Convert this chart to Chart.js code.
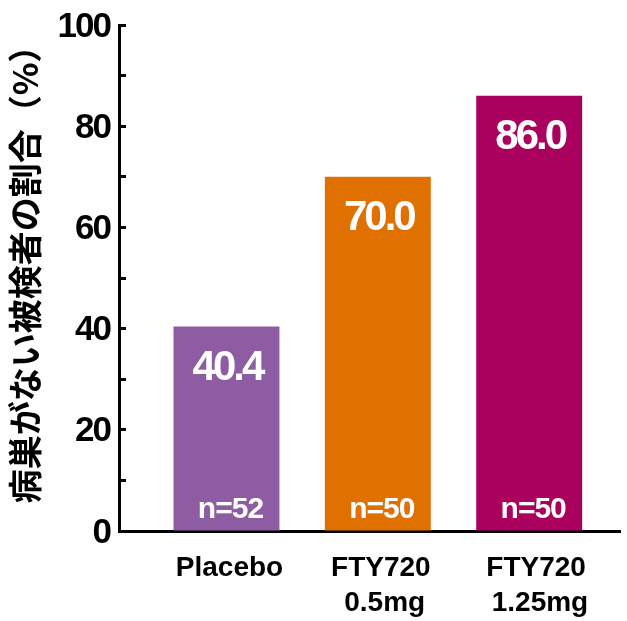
<!DOCTYPE html>
<html>
<head>
<meta charset="utf-8">
<script src="https://cdn.jsdelivr.net/npm/chart.js@4.4.1/dist/chart.umd.min.js"></script>
<style>
  html, body { margin: 0; padding: 0; background: #ffffff; }
  #wrap { width: 627px; height: 621px; }
</style>
</head>
<body>
<div id="wrap"><canvas id="c"></canvas></div>
<script>
// Treatment groups (multi-line category labels)
const categories = [['Placebo'], ['FTY720', ' 0.5mg'], [' FTY720', '  1.25mg']];
// Share of subjects without lesions (%)
const values = [40.4, 70.0, 86.0];
// Group sizes printed at the foot of each bar
const sampleSizes = ['n=52', 'n=50', 'n=50'];
// Bar fill colours
const barColors = ['#8E5CA3', '#E07000', '#AA005E'];
// Labelled y-axis ticks (minor ticks every 10 carry no text)
const yTickLabels = ['0', '20', '40', '60', '80', '100'];
const yTitle = '病巣がない被検者の割合（%）';

const FONT = "'Liberation Sans', Arial, Helvetica, sans-serif";

// Linear scale with per-axis letter spacing for tick labels and a nudge for the title
const labelSpacing = { x: 0, y: -2 };
const titleShift = { x: 0, y: -12 };
class SpacedLinearScale extends Chart.LinearScale {
  drawLabels(area) {
    const ctx = this.ctx;
    ctx.save();
    ctx.letterSpacing = (labelSpacing[this.id] || 0) + 'px';
    super.drawLabels(area);
    ctx.restore();
  }
  drawTitle() {
    const ctx = this.ctx;
    ctx.save();
    ctx.translate(0, titleShift[this.id] || 0);
    super.drawTitle();
    ctx.restore();
  }
}
SpacedLinearScale.id = 'spacedLinear';
SpacedLinearScale.defaults = Chart.LinearScale.defaults;
Chart.register(SpacedLinearScale);

// White value and group-size labels inside each bar
const barLabels = {
  id: 'barLabels',
  afterDatasetsDraw(chart) {
    const ctx = chart.ctx;
    const meta = chart.getDatasetMeta(0);
    ctx.save();
    ctx.fillStyle = '#ffffff';
    ctx.textAlign = 'center';
    ctx.textBaseline = 'middle';
    meta.data.forEach((bar, i) => {
      ctx.letterSpacing = '-3px';
      ctx.font = 'bold 42px ' + FONT;
      ctx.fillText(values[i].toFixed(1), bar.x + 1, bar.y + 42);
      ctx.letterSpacing = '-1px';
      ctx.font = 'bold 30px ' + FONT;
      ctx.fillText(sampleSizes[i], bar.x + 4, bar.base - 21);
    });
    ctx.restore();
  }
};

new Chart(document.getElementById('c'), {
  type: 'bar',
  data: {
    datasets: [{
      data: values.map((v, i) => ({ x: i, y: v })),
      backgroundColor: barColors,
      borderWidth: 0,
      barPercentage: 0.7,
      categoryPercentage: 1.0
    }]
  },
  options: {
    responsive: true,
    maintainAspectRatio: false,
    animation: false,
    devicePixelRatio: 1,
    layout: { padding: { top: 25, right: 7, left: 0, bottom: 0 } },
    plugins: {
      legend: { display: false },
      tooltip: { enabled: false }
    },
    scales: {
      x: {
        type: 'spacedLinear',
        position: 'bottom',
        offset: false,
        min: -0.71,
        max: 2.6,
        afterBuildTicks: (scale) => {
          scale.ticks = categories.map((_, i) => ({ value: i }));
        },
        afterFit: (scale) => {
          scale.height = 90;
          scale.paddingLeft = 0;
          scale.paddingRight = 0;
        },
        grid: { display: true, drawOnChartArea: false, drawTicks: false },
        border: { display: true, color: '#000000', width: 3 },
        ticks: {
          color: '#000000',
          font: { family: FONT, size: 28, weight: 'bold', lineHeight: 1.28 },
          padding: 19,
          labelOffset: 3,
          maxRotation: 0,
          autoSkip: false,
          callback: (value) => categories[value]
        }
      },
      y: {
        type: 'spacedLinear',
        position: 'left',
        min: 0,
        max: 100,
        afterFit: (scale) => {
          scale.width = 119;
          scale.paddingTop = 0;
          scale.paddingBottom = 0;
        },
        grid: {
          display: true,
          drawOnChartArea: false,
          drawTicks: true,
          tickLength: -7,
          tickWidth: 3,
          tickColor: '#000000'
        },
        border: { display: true, color: '#000000', width: 3 },
        ticks: {
          stepSize: 10,
          color: '#000000',
          font: { family: FONT, size: 35, weight: 'bold' },
          padding: 16,
          labelOffset: 2,
          callback: (value) => {
            const idx = yTickLabels.indexOf(String(value));
            return idx >= 0 ? yTickLabels[idx] : '';
          }
        },
        title: {
          display: true,
          text: yTitle,
          color: '#000000',
          font: { family: "'Noto Sans CJK JP', sans-serif", size: 34, weight: 'bold' },
          padding: { top: 5, bottom: 0 }
        }
      }
    }
  },
  plugins: [barLabels]
});
</script>
</body>
</html>
